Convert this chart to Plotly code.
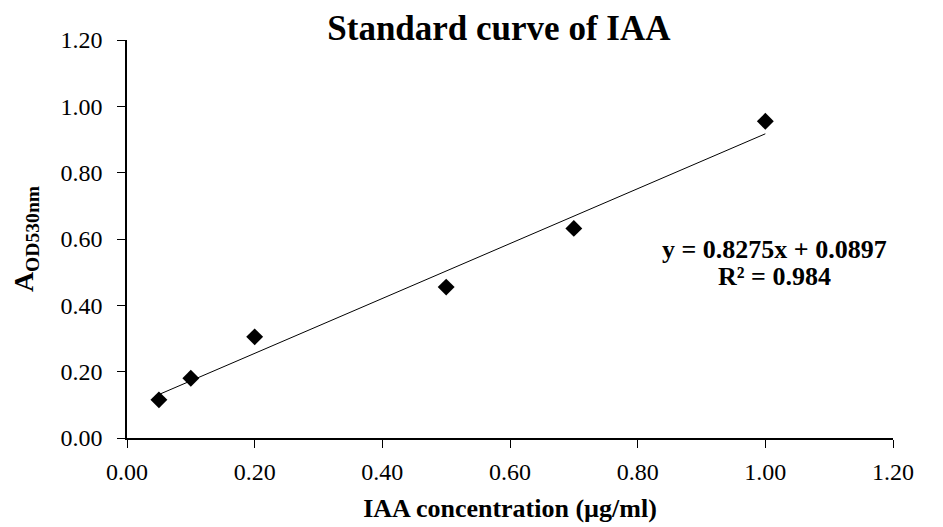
import plotly.graph_objects as go

# Data
conc = [0.05, 0.10, 0.20, 0.50, 0.70, 1.00]
absorb = [0.115, 0.180, 0.305, 0.455, 0.632, 0.955]
slope = 0.8275
intercept = 0.0897
r2 = 0.984
tick_vals = [0, 0.2, 0.4, 0.6, 0.8, 1.0, 1.2]
tick_text = ["0.00", "0.20", "0.40", "0.60", "0.80", "1.00", "1.20"]

FONT = "Liberation Serif, Times New Roman, serif"

trend_x = [min(conc), max(conc)]
trend_y = [slope * x + intercept for x in trend_x]

fig = go.Figure()
fig.add_trace(go.Scatter(x=trend_x, y=trend_y, mode="lines",
                         line=dict(color="black", width=1), showlegend=False, hoverinfo="skip"))
fig.add_trace(go.Scatter(x=conc, y=absorb, mode="markers",
                         marker=dict(symbol="diamond", size=13, color="black"), showlegend=False))

fig.add_annotation(x=1.0136, y=0.567, xref="x", yref="y",
                   text="<b>y = %.4fx + %.4f</b>" % (slope, intercept),
                   showarrow=False, font=dict(family=FONT, size=26, color="black"))
fig.add_annotation(x=1.0136, y=0.487, xref="x", yref="y",
                   text="<b>R² = %.3f</b>" % r2,
                   showarrow=False, font=dict(family=FONT, size=26, color="black"))

fig.update_layout(
    width=935, height=519,
    paper_bgcolor="white", plot_bgcolor="white",
    margin=dict(l=119, r=50, t=32, b=89),
    title=dict(text="<b>Standard curve of IAA</b>", x=0.525, xanchor="center",
               y=0.962, yanchor="middle", font=dict(family=FONT, size=35, color="black")),
    font=dict(family=FONT, color="black"),
)
fig.update_xaxes(range=[0, 1.2], tickvals=tick_vals, ticktext=tick_text,
                 showline=True, linecolor="black", linewidth=1.5, ticks="outside",
                 ticklen=8, tickcolor="black", showgrid=False, zeroline=False,
                 ticklabelstandoff=3, automargin=False,
                 tickfont=dict(family=FONT, size=24, color="black"),
                 title=dict(text="<b>IAA concentration (µg/ml)</b>", standoff=15,
                            font=dict(family=FONT, size=26, color="black")))
fig.update_yaxes(range=[0, 1.2], tickvals=tick_vals, ticktext=tick_text,
                 showline=True, linecolor="black", linewidth=1.5, ticks="outside",
                 ticklen=8, tickcolor="black", showgrid=False, zeroline=False,
                 ticklabelstandoff=10, automargin=False,
                 tickfont=dict(family=FONT, size=24, color="black"),
                 title=dict(text="<b>A<sub>OD530nm</sub></b>", standoff=22,
                            font=dict(family=FONT, size=28, color="black")))

fig.write_html("out.html")
